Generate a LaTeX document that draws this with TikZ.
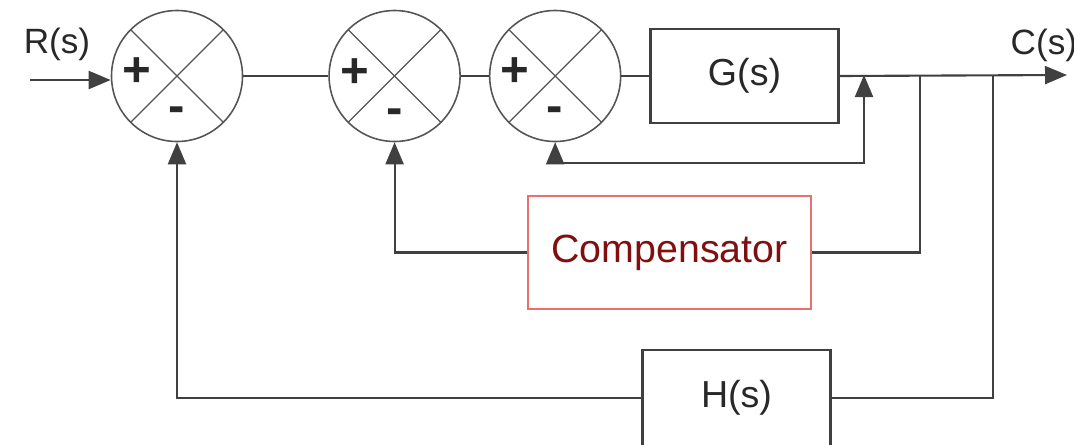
\documentclass[tikz,border=0pt]{standalone}
\usepackage{fontspec}
\setmainfont{Liberation Sans}
\usetikzlibrary{arrows.meta, positioning, calc}
\definecolor{cLine}{RGB}{64, 64, 64}
\definecolor{cRing}{RGB}{85, 85, 85}
\definecolor{cText}{RGB}{40, 40, 40}
\definecolor{cCompDraw}{RGB}{232, 112, 112}
\definecolor{cCompText}{RGB}{130, 15, 15}
\tikzset{
    % --- summing points ---
    sumJunction/.style={
        circle, draw=cRing, line width=0.45pt,
        minimum size=1.31cm, inner sep=0pt,
        path picture={
            \draw[cRing, line width=0.35pt]
                (path picture bounding box.north west) -- (path picture bounding box.south east)
                (path picture bounding box.south west) -- (path picture bounding box.north east);
        }
    },
    signLabel/.style={
        font=\fontsize{14}{14}\selectfont\bfseries,
        text=cText, inner sep=0pt
    },
    %
    % --- blocks ---
    block/.style={
        rectangle, draw=cLine, line width=0.6pt,
        minimum width=1.88cm, minimum height=0.94cm,
        font=\fontsize{10.7}{12}\selectfont, text=cText
    },
    compBlock/.style={
        block, draw=cCompDraw, text=cCompText,
        minimum width=2.83cm, minimum height=1.13cm,
        font=\fontsize{11.2}{13}\selectfont
    },
    sigLabel/.style={
        font=\fontsize{10}{12}\selectfont, text=cText, inner sep=0pt
    },
    %
    % --- lines ---
    conn/.style={draw=cLine, line width=0.6pt},
    connArrow/.style={conn, -{Triangle[length=2.2mm, width=1.8mm]}}
}

\begin{document}
\begin{tikzpicture}

	\useasboundingbox (0,0) rectangle (10.74,4.44);
	\clip (0,0) rectangle (10.74,4.44);

	% =========================================
	% 1. forward path
	% =========================================

	\node [sumJunction] (sum1) at (1.77,3.68) {};
	\node [sumJunction, right=0.85cm of sum1] (sum2) {};
	\node [sumJunction, right=0.28cm of sum2] (sum3) {};
	\node [block, right=0.28cm of sum3] (plant) {G(s)};

	% signs
	\node [signLabel] at ($(sum1.center) + (-0.40, 0.04)$) (p1) {+};
	\node [signLabel] at ($(sum1.center) + (0, -0.39)$) (m1) {-};
	\node [signLabel] at ($(sum2.center) + (-0.40, 0.03)$) (p2) {+};
	\node [signLabel] at ($(sum2.center) + (0, -0.41)$) (m2) {-};
	\node [signLabel] at ($(sum3.center) + (-0.40, 0.04)$) (p3) {+};
	\node [signLabel] at ($(sum3.center) + (0, -0.39)$) (m3) {-};

	% =========================================
	% 2. feedback blocks
	% =========================================

	\node [compBlock] (comp) at (6.695,1.915) {Compensator};
	\node [block, minimum height=0.96cm] (feedback) at (7.365,0.46) {H(s)};

	% input / output
	\coordinate (in) at (0.30,3.64);
	\coordinate (out) at (10.67,3.69);
	\node [sigLabel] (rLabel) at (0.57,4.00) {R(s)};
	\node [sigLabel, anchor=west] (cLabel) at (10.10,3.99) {C(s)};

	% take-off points
	\coordinate (tapInner) at (8.64,3.69);
	\coordinate (tapComp) at (9.20,3.69);
	\coordinate (tapH) at (9.93,3.69);
	\coordinate (innerLoop) at ($(sum3.south) + (0,-0.205)$);

	% =========================================
	% 3. connections
	% =========================================

	\draw [connArrow] (in) -- (in -| sum1.west);
	\draw [conn] (sum1.east) -- (sum2.west);
	\draw [conn] (sum2.east) -- (sum3.west);
	\draw [conn] (sum3.east) -- (plant.west);
	\draw [connArrow] (plant.east) -- (out);

	% inner loop
	\draw [connArrow] (innerLoop) -- (sum3.south);
	\draw [connArrow] (innerLoop) -| (tapInner);

	% compensator loop
	\draw [conn] (tapComp) |- (comp.east);
	\draw [connArrow] (comp.west) -| (sum2.south);

	% outer loop
	\draw [conn] (tapH) |- (feedback.east);
	\draw [connArrow] (feedback.west) -| (sum1.south);

\end{tikzpicture}
\end{document}
